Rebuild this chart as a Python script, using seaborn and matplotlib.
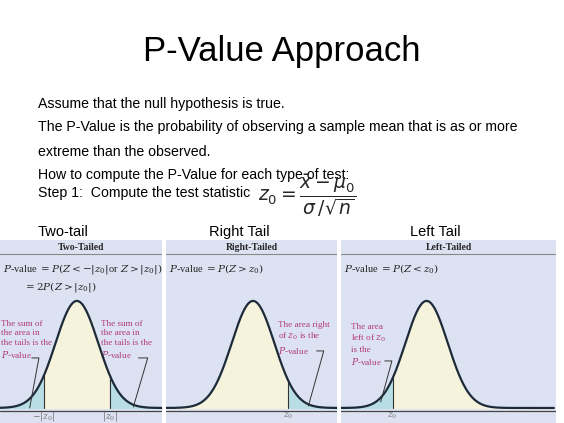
import numpy as np
import pandas as pd
import matplotlib
matplotlib.use('Agg')
import matplotlib.pyplot as plt
import seaborn as sns

sns.set_style('white')
plt.rcParams['font.family'] = ['Liberation Sans', 'DejaVu Sans']
plt.rcParams['mathtext.fontset'] = 'dejavuserif'

# chart content
panel_titles = ['Two-tail', 'Right Tail', 'Left Tail']
panel_headers = ['Two-Tailed', 'Right-Tailed', 'Left-Tailed']
panel_formulas = [r'$P$-value $= P(Z < -|z_0|$or$\ Z > |z_0|)$' + '\n' + r'        $= 2P(Z > |z_0|)$',
                  r'$P$-value $= P(Z > z_0)$',
                  r'$P$-value $= P(Z < z_0)$']
z_crit = [1.55, 1.63, -1.6]
tails = [['left', 'right'], ['right'], ['left']]
notes = ['The sum of\nthe area in\nthe tails is the\n$P$-value',
         'The area right\nof $z_0$ is the\n$P$-value',
         'The area\nleft of $z_0$\nis the\n$P$-value']
z = np.linspace(-6, 6, 500)
density = np.exp(-z ** 2 / 2) / np.sqrt(2 * np.pi)
curve = pd.DataFrame({'z': z, 'density': density})

fig = plt.figure(figsize=(5.64, 4.23), dpi=100)
W, H = 564, 423
fig.text(282 / W, 1 - 52 / H, 'P-Value Approach', ha='center', va='center', fontsize=25, color='black')
body = [(104, 'Assume that the null hypothesis is true.'),
        (127, 'The P-Value is the probability of observing a sample mean that is as or more'),
        (152, 'extreme than the observed.'),
        (175, 'How to compute the P-Value for each type of test:'),
        (193, 'Step 1:  Compute the test statistic')]
for py, t in body:
    fig.text(38 / W, 1 - py / H, t, va='center', fontsize=10.2, color='black')
fig.text(258 / W, 1 - 196 / H, r'$z_0 = \dfrac{\bar{x}-\mu_0}{\sigma\,/\sqrt{n}}$',
         va='center', fontsize=13.5, family='DejaVu Sans', math_fontfamily='dejavusans')

panels = [(0, 162, 77), (166, 337, 253), (341, 556, 427)]
title_x = [38, 209, 410]
note_pos = [[(3, 320), (100, 320)], [(277, 321)], [(353, 323)]]
leaders = [[[(33, 358), (40, 358), (31, 408)], [(137, 358), (146, 358), (132, 407)]],
           [[(315, 351), (322, 351), (307, 406)]],
           [[(386, 361), (393, 361), (382, 402)]]]
tick_lbl = [[(-1.55, r'$-|z_0|$'), (1.55, r'$|z_0|$')], [(1.63, r'$z_0$')], [(-1.6, r'$z_0$')]]
scale = 20.8
bg, cream, teal, pink = '#dde2f2', '#f6f3dc', '#b9dde4', '#b0387a'

for i, (x0, x1, cx) in enumerate(panels):
    fig.text(title_x[i] / W, 1 - 232 / H, panel_titles[i], va='center', fontsize=10.5, color='black')
    ax = fig.add_axes([x0 / W, 0, (x1 - x0) / W, (423 - 240) / H])
    ax.set_facecolor(bg)
    ax.set_xlim((x0 - cx) / scale, (x1 - cx) / scale)
    ax.set_ylim(-0.056, 0.626)
    for s in ax.spines.values():
        s.set_visible(False)
    to_d = lambda px, py: ((px - cx) / scale, (408 - py) / 107 * 0.399)
    ax.fill_between(z, density, color=cream, zorder=1)
    zc = abs(z_crit[i])
    for side in tails[i]:
        m = z <= -zc if side == 'left' else z >= zc
        ax.fill_between(z[m], density[m], color=teal, zorder=2)
        xe = -zc if side == 'left' else zc
        ax.plot([xe, xe], [0, np.exp(-xe ** 2 / 2) / np.sqrt(2 * np.pi)], color='#333333', lw=0.8, zorder=3)
    sns.lineplot(data=curve, x='z', y='density', ax=ax, color='#1c2a3a', lw=1.6, zorder=4)
    ax.set_xticks([]); ax.set_yticks([])
    ax.set_xlabel(''); ax.set_ylabel('')
    ax.set_xlim((x0 - cx) / scale + 0.1, (x1 - cx) / scale - 0.1)
    ax.axhline(-0.012, color='#444444', lw=0.9)
    ax.axhline(0.575, color='#888888', lw=0.8)
    hx, hy = to_d((x0 + x1) / 2, 248)
    ax.text(hx, hy, panel_headers[i], ha='center', va='center', fontsize=7,
            family='Liberation Serif', weight='bold')
    fx, fy = to_d(x0 + 5, 262)
    ax.text(fx, fy, panel_formulas[i], ha='left', va='top', fontsize=7.5,
            family='Liberation Serif', linespacing=1.4)
    for (px, py) in note_pos[i]:
        nx, ny = to_d(px, py)
        ax.text(nx, ny, notes[i], ha='left', va='top', fontsize=6.6, color=pink,
                family='Liberation Serif', linespacing=1.25)
    for pts in leaders[i]:
        d = [to_d(*p) for p in pts]
        ax.plot([p[0] for p in d], [p[1] for p in d], color='#333333', lw=0.7, zorder=5)
    for xv, lbl in tick_lbl[i]:
        ax.text(xv, -0.03, lbl, ha='center', va='center', fontsize=6.5, color='#777777')

fig.savefig('out.png', dpi=100)
